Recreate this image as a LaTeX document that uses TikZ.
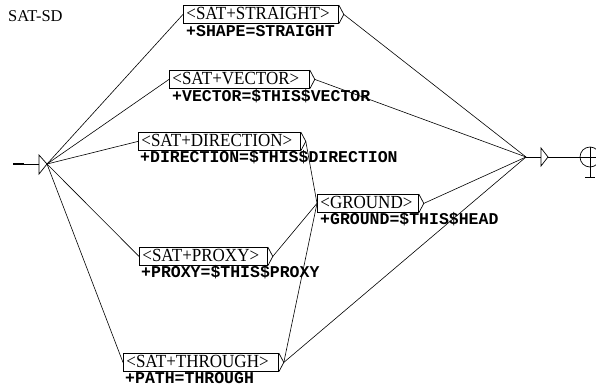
\documentclass[tikz,border=0pt]{standalone}
\usepackage{fontspec}
\setmainfont{Liberation Serif}
\newfontfamily\boxfont[FakeStretch=0.92]{Liberation Serif}
\newfontfamily\outfont{Liberation Mono}
\begin{document}
\begin{tikzpicture}[x=1pt,y=-1pt,
  box/.style={draw,line width=0.8pt,inner xsep=3pt,inner ysep=0pt,
    text height=14.5pt,text depth=3.5pt,anchor=north west,align=left,
    font=\boxfont\fontsize{18.5}{20}\selectfont},
  outtxt/.style={anchor=base west,inner sep=0pt,
    font=\outfont\bfseries\fontsize{16.5}{18}\selectfont},
  conn/.style={line width=0.6pt},
  brk/.style={line width=0.7pt}]
\useasboundingbox (0,0) rectangle (596,389);

\node[anchor=base west,inner sep=0pt,font=\fontsize{16.5}{18}\selectfont] (title) at (8,21) {SAT-SD};

% initial state
\coordinate (init) at (47,164);
\draw[line width=2pt] (13,164) -- (24,164);
\draw[conn] (24,164) -- (39,164);
\draw[line width=0.7pt] (39,155) -- (init) -- (39,174) -- cycle;

% boxes
\node[box,text width=149pt] (st) at (183,5) {<SAT+STRAIGHT>};
\node[box,text width=134pt] (ve) at (169,70) {<SAT+VECTOR>};
\node[box,text width=156pt] (di) at (138,132) {<SAT+DIRECTION>};
\node[box,text width=95pt]  (gr) at (317,194) {<GROUND>};
\node[box,text width=122pt] (pr) at (139,247) {<SAT+PROXY>};
\node[box,text width=149pt] (th) at (123,353) {<SAT+THROUGH>};

% outputs
\node[outtxt] (st-o) at (186,36) {+SHAPE=STRAIGHT};
\node[outtxt] (ve-o) at (172,101) {+VECTOR=\$THIS\$VECTOR};
\node[outtxt] (di-o) at (140,162.5) {+DIRECTION=\$THIS\$DIRECTION};
\node[outtxt] (gr-o) at (320,224.5) {+GROUND=\$THIS\$HEAD};
\node[outtxt] (pr-o) at (141,277.5) {+PROXY=\$THIS\$PROXY};
\node[outtxt] (th-o) at (125,383.5) {+PATH=THROUGH};

% brackets and their tips
\foreach \n in {st,ve,di,gr,pr,th}{
  \draw[brk] (\n.north east) -- ([xshift=5pt]\n.east) -- (\n.south east);
  \coordinate (\n-t) at ([xshift=5pt]\n.east);
}

% final state
\coordinate (fin) at (526,157);
\coordinate (fc) at (590,157);
\draw[conn] (fin) -- (541,157);
\draw[line width=0.7pt] (541,148) -- (548,157) -- (541,166) -- cycle;
\draw[conn] (548,157) -- (580,157);
\draw[line width=0.7pt] (fc) circle[radius=10pt];
\draw[line width=0.7pt] (580,157) -- (600,157);
\draw[line width=0.7pt] (590,147) -- (590,177);
\draw[line width=0.7pt] (585,177) -- (595,177);

% connectors
\foreach \n in {st,ve,di,pr,th}{
  \draw[conn] (init) -- (\n.west);
}
\draw[conn] (st-t) -- (fin);
\draw[conn] (ve-t) -- (fin);
\draw[conn] (gr-t) -- (fin);
\draw[conn] (th-t) -- (fin);
\draw[conn] (di-t) -- (gr.west);
\draw[conn] (pr-t) -- (gr.west);
\draw[conn] (th-t) -- (gr.west);
\end{tikzpicture}
\end{document}
